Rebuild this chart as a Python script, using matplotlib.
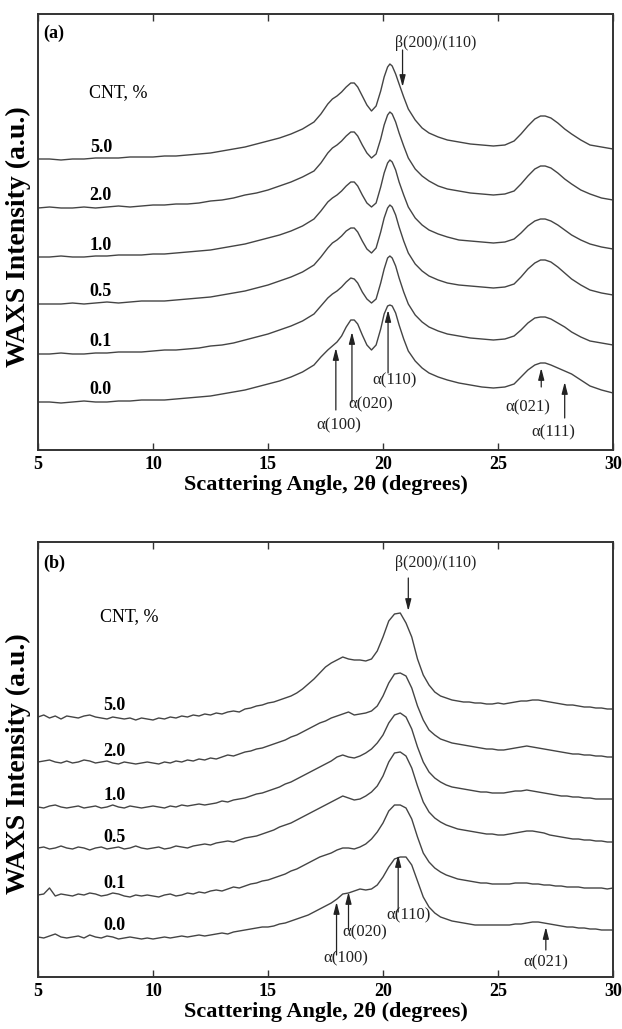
import numpy as np
import matplotlib
matplotlib.use("Agg")
import matplotlib.pyplot as plt

plt.rcParams['font.family'] = ['Liberation Serif', 'DejaVu Serif']
plt.rcParams['mathtext.fontset'] = 'stix'

# ---------------- data: panel (a) ----------------
two_theta_a = ([5, 5.5, 6, 6.5, 7, 7.5, 8, 8.5, 9, 9.5, 10, 10.5, 11, 11.5, 12, 12.5,
                13, 13.5, 14, 14.5, 15, 15.5, 16, 16.5, 17]
               + [17.3, 17.6, 17.8, 18.0, 18.2, 18.4, 18.6, 18.75, 18.9, 19.1]
               + [19.3, 19.5, 19.7, 19.9, 20.05, 20.2, 20.3, 20.4, 20.55, 20.7]
               + [20.9, 21.1, 21.4, 21.7, 22.0, 22.4, 22.8, 23.3, 23.8, 24.3]
               + [24.8, 25.3, 25.7, 26.0, 26.3, 26.6, 26.85, 27.05, 27.3, 27.6]
               + [27.9, 28.2, 28.6, 29.0, 29.5, 30])

cnt_labels = ["5.0", "2.0", "1.0", "0.5", "0.1", "0.0"]

a_cnt50 = ([0, 0, -1, 0, 0, 1, 1, 1, 2, 2, 2, 3, 3, 4, 5, 6, 8, 10, 12, 15, 18, 21, 25, 30, 37]
           + [45, 55, 60, 63, 67, 72, 76, 76, 72, 63]
           + [54, 48, 53, 68, 82, 92, 95, 93, 85, 75]
           + [62, 50, 39, 31, 26, 22, 19, 17, 15, 14]
           + [13, 14, 18, 25, 33, 40, 43, 43, 41, 36]
           + [30, 25, 19, 14, 12, 10])
a_cnt20 = ([0, 1, 0, 0, 1, 0, 1, 2, 1, 2, 3, 3, 4, 4, 5, 7, 8, 10, 13, 15, 18, 22, 26, 31, 37]
           + [45, 55, 60, 63, 67, 72, 76, 76, 72, 63]
           + [55, 50, 54, 69, 83, 93, 96, 94, 86, 75]
           + [62, 50, 39, 32, 27, 22, 19, 17, 15, 14]
           + [13, 14, 17, 24, 32, 39, 42, 42, 40, 35]
           + [29, 24, 18, 14, 10, 8])
a_cnt10 = ([0, 0, 1, 0, 0, 1, 1, 2, 2, 2, 3, 3, 4, 5, 6, 7, 9, 11, 13, 16, 19, 22, 26, 31, 38]
           + [46, 55, 59, 62, 66, 71, 75, 75, 71, 62]
           + [54, 50, 54, 70, 84, 94, 97, 95, 87, 75]
           + [62, 50, 39, 32, 27, 23, 20, 17, 16, 15]
           + [14, 15, 18, 24, 31, 36, 38, 38, 36, 32]
           + [27, 22, 17, 13, 10, 8])
a_cnt05 = ([0, 0, 0, 1, 0, 1, 2, 1, 2, 3, 3, 3, 4, 5, 6, 7, 9, 11, 13, 16, 19, 23, 27, 32, 39]
           + [47, 56, 61, 64, 68, 73, 76, 76, 72, 63]
           + [55, 51, 56, 72, 86, 96, 99, 97, 89, 77]
           + [63, 51, 40, 33, 28, 24, 21, 19, 18, 17]
           + [16, 17, 20, 27, 35, 41, 44, 44, 42, 37]
           + [31, 25, 19, 14, 11, 9])
a_cnt01 = ([0, 0, 1, 0, 0, 1, 1, 2, 2, 2, 3, 4, 4, 5, 6, 8, 9, 11, 14, 17, 20, 24, 28, 33, 40]
           + [48, 56, 60, 63, 67, 72, 76, 75, 71, 62]
           + [55, 51, 55, 71, 85, 96, 98, 96, 88, 76]
           + [62, 50, 39, 32, 27, 23, 20, 18, 16, 15]
           + [14, 15, 18, 24, 31, 36, 37, 37, 35, 31]
           + [27, 22, 17, 13, 11, 9])
a_cnt00 = ([0, 0, -1, 0, 1, 0, 0, 1, 1, 2, 2, 2, 3, 4, 5, 6, 8, 10, 12, 15, 18, 21, 25, 30, 37]
           + [45, 52, 56, 60, 66, 75, 82, 82, 78, 67]
           + [57, 52, 57, 73, 88, 96, 97, 96, 89, 77]
           + [63, 51, 41, 34, 29, 25, 22, 19, 17, 15]
           + [14, 15, 18, 25, 32, 37, 39, 39, 37, 34]
           + [31, 28, 22, 16, 12, 9])
series_a = [a_cnt50, a_cnt20, a_cnt10, a_cnt05, a_cnt01, a_cnt00]
offsets_a = [291, 242, 193, 146, 96, 48]

# ---------------- data: panel (b) ----------------
two_theta_b = [5 + 0.25 * i for i in range(101)]

b_cnt50 = ([0, 2, -1, 1, -2, 1, 0, -1, 1, 2]
           + [0, -1, -2, 0, -1, -2, -1, -3, -1, -2]
           + [-3, -1, -2, 0, -1, 1, 0, 2, 1, 3]
           + [2, 4, 3, 5, 6, 5, 8, 9, 11, 12]
           + [14, 15, 17, 19, 21, 24, 28, 33, 38, 44]
           + [50, 54, 57, 60, 58, 57, 57, 56, 58, 66]
           + [80, 96, 103, 104, 94, 80, 58, 42, 32, 25]
           + [21, 19, 17, 16, 15, 15, 14, 14, 13, 13]
           + [14, 13, 14, 15, 16, 16, 17, 17, 16, 15]
           + [14, 13, 12, 12, 11, 10, 10, 9, 9, 8]
           + [8])
b_cnt20 = ([0, 1, 2, 0, -1, 1, -1, 0, 2, 1]
           + [-1, 0, 1, -1, -2, 0, -1, -2, -1, 0]
           + [-1, -2, 0, -1, 1, 0, 2, 1, 3, 2]
           + [4, 3, 5, 7, 6, 8, 10, 11, 13, 14]
           + [16, 18, 20, 22, 25, 27, 30, 33, 36, 39]
           + [41, 44, 46, 48, 50, 47, 48, 49, 51, 56]
           + [66, 79, 88, 89, 86, 74, 56, 42, 32, 27]
           + [23, 21, 19, 18, 17, 16, 15, 14, 13, 13]
           + [12, 12, 13, 14, 15, 16, 15, 14, 13, 12]
           + [11, 10, 9, 8, 8, 7, 7, 6, 6, 5]
           + [5])
b_cnt10 = ([0, -1, 1, 2, 0, -1, 0, 1, -1, 0]
           + [1, -1, 0, 2, 0, -1, 1, 0, -1, 0]
           + [1, 0, -1, 1, 0, 2, 1, 2, 3, 2]
           + [3, 4, 6, 5, 7, 8, 9, 11, 13, 14]
           + [16, 18, 20, 23, 25, 28, 31, 34, 37, 40]
           + [43, 46, 50, 52, 50, 49, 51, 54, 58, 64]
           + [72, 84, 92, 94, 90, 78, 60, 45, 35, 29]
           + [25, 22, 20, 19, 18, 17, 16, 15, 15, 14]
           + [14, 14, 15, 16, 16, 17, 16, 15, 14, 13]
           + [12, 11, 11, 10, 10, 9, 9, 8, 8, 8]
           + [8])
b_cnt05 = ([0, 1, -1, 0, 2, 0, -1, 1, 0, -2]
           + [0, 1, -1, 0, 1, -1, 0, 2, 0, -1]
           + [0, 1, -1, 0, 2, 1, 0, 2, 3, 4]
           + [3, 5, 6, 7, 6, 8, 10, 11, 12, 14]
           + [16, 18, 21, 23, 25, 28, 31, 34, 37, 40]
           + [43, 46, 49, 52, 50, 48, 49, 52, 56, 62]
           + [72, 86, 95, 96, 92, 80, 62, 46, 36, 30]
           + [26, 23, 21, 19, 18, 17, 16, 15, 14, 14]
           + [13, 13, 14, 15, 16, 17, 17, 16, 15, 13]
           + [12, 11, 10, 9, 9, 8, 8, 7, 7, 6]
           + [6])
b_cnt01 = ([0, 1, 7, -1, 1, 0, -1, 1, 0, 2]
           + [1, -1, 0, 2, 1, -1, -2, 0, -1, 0]
           + [-1, -2, 0, 1, -1, 0, 2, 1, 3, 2]
           + [4, 5, 4, 6, 8, 7, 9, 11, 12, 14]
           + [15, 17, 19, 21, 24, 26, 29, 32, 35, 38]
           + [40, 42, 45, 47, 47, 46, 48, 51, 56, 63]
           + [72, 84, 90, 90, 87, 76, 58, 42, 33, 27]
           + [23, 20, 18, 16, 15, 14, 13, 12, 12, 11]
           + [11, 11, 11, 12, 12, 12, 11, 11, 10, 10]
           + [9, 9, 8, 8, 8, 7, 7, 7, 7, 6]
           + [7])
b_cnt00 = ([0, -1, 1, 3, 0, -1, 0, 1, -1, 2]
           + [0, -1, 1, 0, -2, -1, 0, -1, -2, -1]
           + [-2, -1, 0, -1, 0, 1, 0, 1, 2, 1]
           + [2, 3, 4, 3, 5, 6, 7, 8, 9, 10]
           + [10, 11, 13, 14, 16, 18, 20, 22, 25, 28]
           + [31, 34, 38, 43, 44, 46, 48, 47, 48, 52]
           + [60, 70, 78, 80, 80, 72, 56, 40, 30, 24]
           + [20, 18, 16, 15, 14, 13, 12, 12, 12, 12]
           + [12, 12, 12, 13, 13, 14, 15, 15, 14, 13]
           + [12, 11, 10, 10, 9, 9, 8, 8, 7, 7]
           + [7])
series_b = [b_cnt50, b_cnt20, b_cnt10, b_cnt05, b_cnt01, b_cnt00]
offsets_b = [260, 215, 170, 129, 82, 40]

x_ticks = [5, 10, 15, 20, 25, 30]

# ---------------- figure ----------------
W, H = 622, 1029
fig = plt.figure(figsize=(W / 100, H / 100), dpi=100)
line_col = '#444444'
spine_col = '#333333'


def make_axes(top_px, bottom_px):
    left, right = 38, 613
    return fig.add_axes([left / W, 1 - bottom_px / H, (right - left) / W, (bottom_px - top_px) / H])


def style(ax, ylim_top):
    ax.set_xlim(5, 30)
    ax.set_ylim(0, ylim_top)
    ax.set_xticks(x_ticks)
    ax.set_yticks([])
    ax.tick_params(axis='x', direction='in', length=5, width=1.0, color=spine_col,
                   top=True, labeltop=False, pad=4, labelsize=13)
    for lab in ax.get_xticklabels():
        lab.set_fontweight('bold')
    for s in ax.spines.values():
        s.set_color(spine_col)
        s.set_linewidth(1.4)
    ax.set_xlabel('Scattering Angle, 2θ (degrees)', fontsize=16, fontweight='bold', labelpad=2)
    ax.set_ylabel('WAXS Intensity (a.u.)', fontsize=20, fontweight='bold')
    ax.yaxis.set_label_coords(-0.012, 0.49)


def arrow(ax, x, y_tail, y_tip):
    ax.annotate('', xy=(x, y_tip), xytext=(x, y_tail),
                arrowprops=dict(arrowstyle='-|>,head_width=0.18,head_length=0.7',
                                color='#222222', lw=0.9, shrinkA=0, shrinkB=0))


ann_kw = dict(fontsize=12, color='#222222', ha='center', va='center')

# ---- panel (a)
axa = make_axes(14, 450)
for vals, off in zip(series_a, offsets_a):
    axa.plot(two_theta_a, [v + off for v in vals], color=line_col, lw=1.0)
style(axa, 436)
axa.text(5.25, 417, '(a)', fontsize=13, fontweight='bold', va='center', ha='left')
axa.text(7.2, 357, 'CNT, %', fontsize=13, va='center', ha='left')
for lab, off in zip(cnt_labels, offsets_a):
    axa.text(7.25, off + 12, lab, fontsize=13, fontweight='bold', va='center', ha='left')
axa.text(22.3, 407, 'β(200)/(110)', fontsize=11.5, color='#222222', ha='center', va='center')
arrow(axa, 20.85, 400, 363)
arrow(axa, 17.95, 40, 102)
axa.text(18.1, 25, 'α(100)', **ann_kw)
arrow(axa, 18.65, 48, 118)
axa.text(19.45, 46, 'α(020)', **ann_kw)
arrow(axa, 20.22, 77, 140)
axa.text(20.5, 70, 'α(110)', **ann_kw)
arrow(axa, 26.88, 63, 82)
axa.text(26.3, 43, 'α(021)', **ann_kw)
arrow(axa, 27.9, 32, 68)
axa.text(27.4, 18, 'α(111)', **ann_kw)

# ---- panel (b)
axb = make_axes(542, 977)
for vals, off in zip(series_b, offsets_b):
    axb.plot(two_theta_b, [v + off for v in vals], color=line_col, lw=1.0)
style(axb, 435)
axb.text(5.25, 414, '(b)', fontsize=13, fontweight='bold', va='center', ha='left')
axb.text(7.7, 360, 'CNT, %', fontsize=13, va='center', ha='left')
for lab, off in zip(cnt_labels, offsets_b):
    axb.text(7.85, off + 11, lab, fontsize=13, fontweight='bold', va='center', ha='left')
axb.text(22.3, 414, 'β(200)/(110)', fontsize=11.5, color='#222222', ha='center', va='center')
arrow(axb, 21.1, 399, 366)
arrow(axb, 17.98, 22, 75)
axb.text(18.4, 19, 'α(100)', **ann_kw)
arrow(axb, 18.5, 47, 85)
axb.text(19.2, 45, 'α(020)', **ann_kw)
arrow(axb, 20.66, 65, 122)
axb.text(21.1, 62, 'α(110)', **ann_kw)
arrow(axb, 27.08, 27, 50)
axb.text(27.1, 15, 'α(021)', **ann_kw)

fig.savefig('out.png', dpi=100)
